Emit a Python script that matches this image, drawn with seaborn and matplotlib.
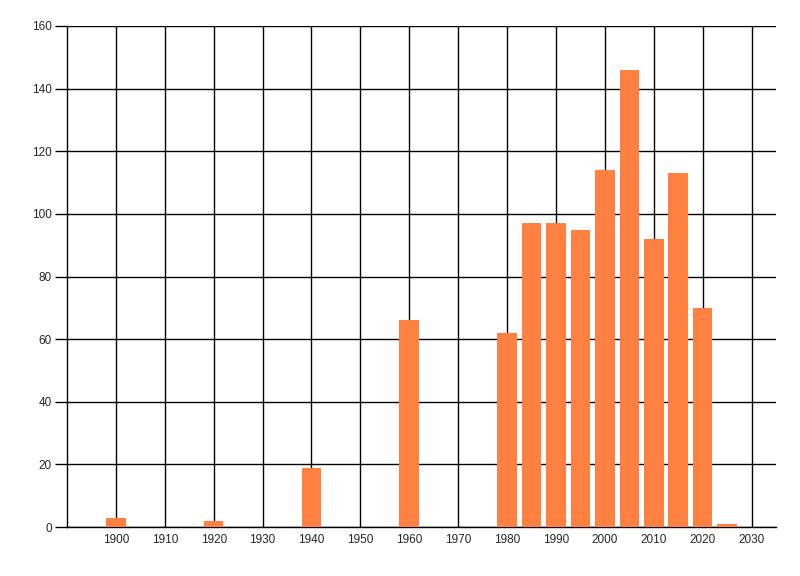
import numpy as np
import pandas as pd
import seaborn as sns
import matplotlib.pyplot as plt

# Values
years = [1900, 1920, 1940, 1960, 1980, 1985, 1990, 1995, 2000, 2005, 2010, 2015, 2020, 2025]
counts = [3, 2, 19, 66, 62, 97, 97, 95, 114, 146, 92, 113, 70, 1]
x_ticks = list(range(1900, 2031, 10))
y_ticks = list(range(0, 161, 20))

data = pd.DataFrame({'Year': years, 'Count': counts})

sns.set_style('white')
plt.rcParams['font.family'] = ['Liberation Sans', 'DejaVu Sans']

fig = plt.figure(figsize=(8, 5.76), dpi=100)
ax = fig.add_axes([67 / 800, 1 - 527 / 576, (776 - 67) / 800, (527 - 26) / 576])

sns.barplot(data=data, x='Year', y='Count', native_scale=True, width=0.8,
            color='#FF8040', saturation=1, linewidth=0, edgecolor='none',
            ax=ax, zorder=3)

ax.set_xlim(1890, 2035)
ax.set_ylim(0, 160)
ax.set_xticks(x_ticks)
ax.set_yticks(y_ticks)
ax.set_xlabel('')
ax.set_ylabel('')

ax.grid(True, color='black', linewidth=1.0)
ax.set_axisbelow(True)
for side in ['top', 'right']:
    ax.spines[side].set_visible(False)
for side in ['left', 'bottom']:
    ax.spines[side].set_color('black')
    ax.spines[side].set_linewidth(1.0)

ax.tick_params(axis='y', left=True, length=9, width=1.0, color='black', pad=2, labelsize=8.5)
ax.tick_params(axis='x', bottom=False, length=0, pad=5, labelsize=8.5)

plt.savefig('out.png', dpi=100)
